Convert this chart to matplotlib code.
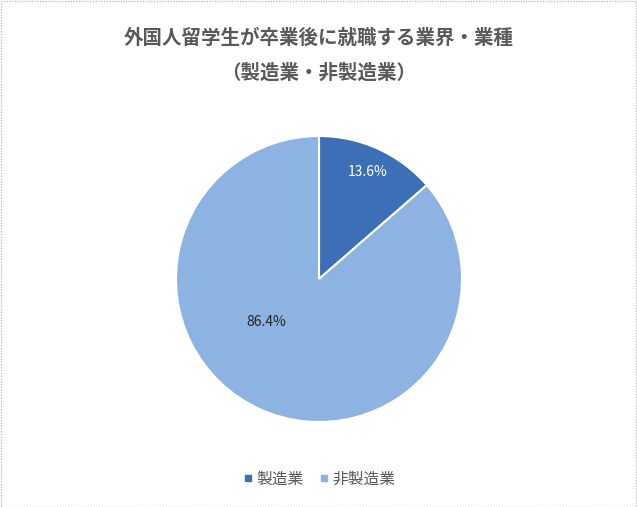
import matplotlib
matplotlib.use("Agg")
import matplotlib.pyplot as plt
from matplotlib.lines import Line2D
from matplotlib.patches import Rectangle
import numpy as np

plt.rcParams['font.family'] = ['Noto Sans CJK JP', 'DejaVu Sans']

title_line1 = "外国人留学生が卒業後に就職する業界・業種"
title_line2 = "（製造業・非製造業）"
categories = ["製造業", "非製造業"]
values = [13.6, 86.4]
colors = ["#3D6FB6", "#8DB3E2"]
label_colors = ["white", "#262626"]

W, H = 637, 507
fig = plt.figure(figsize=(W / 100, H / 100), dpi=100)
fig.patch.set_facecolor("white")

cx, cy, r = 319, 279, 143
ax = fig.add_axes([(cx - r) / W, (H - cy - r) / H, 2 * r / W, 2 * r / H])
wedges, _ = ax.pie(values, colors=colors, startangle=90, counterclock=False,
                   radius=1.0, wedgeprops=dict(edgecolor="white", linewidth=1.5))
ax.set_xlim(-1, 1)
ax.set_ylim(-1, 1)
ax.set_aspect("equal")
ax.axis("off")

# label for small slice at its mid-angle
total = sum(values)
mid = np.deg2rad(values[0] / total * 360 / 2)
d = 0.82
ax.text(d * np.sin(mid), d * np.cos(mid), f"{values[0]:.1f}%", ha="center", va="center",
        fontsize=10, color=label_colors[0])
# label for large slice (placed left of centre as in the reference)
ax.text(-0.37, -0.30, f"{values[1]:.1f}%", ha="center", va="center",
        fontsize=10, color=label_colors[1])

fig.text(0.5, 1 - 38 / H, title_line1, ha="center", va="center", fontsize=14,
         color="#595959", fontweight="bold")
fig.text(0.5, 1 - 73 / H, title_line2, ha="center", va="center", fontsize=14,
         color="#595959", fontweight="bold")

handles = [Line2D([0], [0], marker="s", linestyle="none", markersize=5,
                  markerfacecolor=c, markeredgecolor=c) for c in colors]
fig.legend(handles, categories, loc="center", bbox_to_anchor=(0.5, 1 - 479 / H),
           ncol=2, frameon=False, fontsize=11.3, labelcolor="#595959",
           handletextpad=0.15, columnspacing=0.9, handlelength=0.8)

fig.patches.append(Rectangle((0.5 / W, 0.5 / H), 1 - 1.5 / W, 1 - 1.5 / H,
                             transform=fig.transFigure, fill=False,
                             edgecolor="#BFBFBF", linewidth=1, linestyle=(0, (1, 1))))

fig.savefig("out.png", dpi=100, facecolor="white")
